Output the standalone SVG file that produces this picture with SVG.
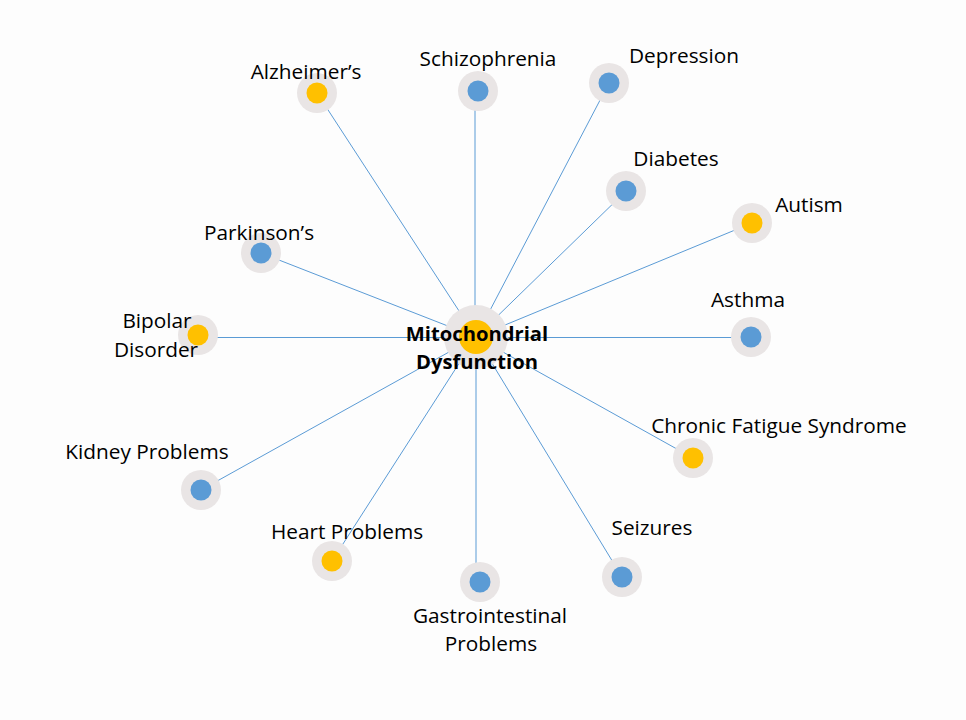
<svg xmlns="http://www.w3.org/2000/svg" width="966" height="720" viewBox="0 0 966 720">
<style>
.bg{fill:#fdfdfd}
.ring{fill:#e9e5e5}
.b{fill:#5b9bd5}
.y{fill:#ffc000}
.lbl{font-family:"Open Sans","Noto Sans","DejaVu Sans",sans-serif;font-size:20.8px;fill:#000;text-anchor:middle}
.ctr{font-family:"Open Sans","Noto Sans","DejaVu Sans",sans-serif;font-size:20.2px;font-weight:bold;fill:#000;text-anchor:middle}
#edges line{stroke:#5b9bd5;stroke-width:1}
</style>
<rect class="bg" x="0" y="0" width="966" height="720"/>
<g id="edges">
<line x1="476" y1="337" x2="317" y2="93"/>
<line x1="475" y1="337" x2="475" y2="91"/>
<line x1="476" y1="337" x2="609" y2="83"/>
<line x1="476" y1="337" x2="626" y2="191"/>
<line x1="476" y1="337" x2="752" y2="223"/>
<line x1="476" y1="337" x2="261" y2="253"/>
<line x1="476" y1="337.5" x2="198" y2="337.5"/>
<line x1="476" y1="337.5" x2="751" y2="337.5"/>
<line x1="476" y1="337" x2="201" y2="490"/>
<line x1="476" y1="337" x2="693" y2="458"/>
<line x1="476" y1="337" x2="332" y2="561"/>
<line x1="476" y1="337" x2="476" y2="582"/>
<line x1="476" y1="337" x2="622" y2="577"/>
</g>
<g id="n-alzheimers"><circle class="ring" cx="317" cy="93" r="20"/><circle class="y" cx="317" cy="93" r="10.5"/><text class="lbl" x="306" y="79">Alzheimer’s</text></g>
<g id="n-schizophrenia"><circle class="ring" cx="478" cy="91" r="20"/><circle class="b" cx="478" cy="91" r="10.5"/><text class="lbl" x="488" y="66">Schizophrenia</text></g>
<g id="n-depression"><circle class="ring" cx="609" cy="83" r="20"/><circle class="b" cx="609" cy="83" r="10.5"/><text class="lbl" x="684" y="63">Depression</text></g>
<g id="n-diabetes"><circle class="ring" cx="626" cy="191" r="20"/><circle class="b" cx="626" cy="191" r="10.5"/><text class="lbl" x="676" y="166">Diabetes</text></g>
<g id="n-autism"><circle class="ring" cx="752" cy="223" r="20"/><circle class="y" cx="752" cy="223" r="10.5"/><text class="lbl" x="809" y="212">Autism</text></g>
<g id="n-parkinsons"><circle class="ring" cx="261" cy="253" r="20"/><circle class="b" cx="261" cy="253" r="10.5"/><text class="lbl" x="259" y="240">Parkinson’s</text></g>
<g id="n-bipolar"><circle class="ring" cx="198" cy="335" r="20"/><circle class="y" cx="198" cy="335" r="10.5"/><text class="lbl" x="157" y="328">Bipolar</text><text class="lbl" x="156" y="357">Disorder</text></g>
<g id="n-asthma"><circle class="ring" cx="751" cy="337" r="20"/><circle class="b" cx="751" cy="337" r="10.5"/><text class="lbl" x="748" y="307">Asthma</text></g>
<g id="n-kidney"><circle class="ring" cx="201" cy="490" r="20"/><circle class="b" cx="201" cy="490" r="10.5"/><text class="lbl" x="147" y="459">Kidney Problems</text></g>
<g id="n-cfs"><circle class="ring" cx="693" cy="458" r="20"/><circle class="y" cx="693" cy="458" r="10.5"/><text class="lbl" x="779" y="433">Chronic Fatigue Syndrome</text></g>
<g id="n-heart"><circle class="ring" cx="332" cy="561" r="20"/><circle class="y" cx="332" cy="561" r="10.5"/><text class="lbl" x="347" y="539">Heart Problems</text></g>
<g id="n-gastro"><circle class="ring" cx="480" cy="582" r="20"/><circle class="b" cx="480" cy="582" r="10.5"/><text class="lbl" x="490" y="623">Gastrointestinal</text><text class="lbl" x="491" y="651">Problems</text></g>
<g id="n-seizures"><circle class="ring" cx="622" cy="577" r="20"/><circle class="b" cx="622" cy="577" r="10.5"/><text class="lbl" x="652" y="535">Seizures</text></g>
<g id="n-center"><circle class="ring" cx="476" cy="337" r="32"/><circle class="y" cx="476" cy="337" r="17"/><text class="ctr" x="477" y="341">Mitochondrial</text><text class="ctr" x="477" y="369">Dysfunction</text></g>
</svg>
